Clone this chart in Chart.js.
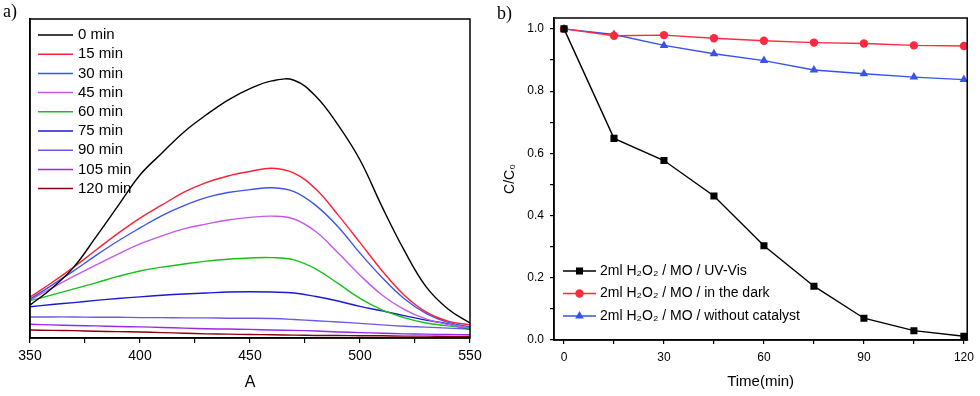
<!DOCTYPE html>
<html>
<head>
<meta charset="utf-8">
<script src="https://cdn.jsdelivr.net/npm/chart.js@4.4.1/dist/chart.umd.min.js"></script>
<style>
  body { margin: 0; background: #fff; }
  #wrap { position: relative; width: 980px; height: 396px; }
  canvas { position: absolute; top: 0; }
  .tag { position: absolute; font-family: "Liberation Serif", serif; font-size: 18px; color: #000; }
</style>
</head>
<body>
<div id="wrap">
  <canvas id="chartA" width="490" height="396" style="left:0"></canvas>
  <canvas id="chartB" width="490" height="396" style="left:490px"></canvas>
  <div class="tag" style="left:3px;top:1px">a)</div>
  <div class="tag" style="left:497px;top:3px">b)</div>
</div>
<script>
// panel a: spectra (normalised absorbance, no y ticks in the original)
const wavelengths = [350, 360, 370, 380, 390, 400, 410, 420, 430, 440, 450, 460, 470, 480, 490, 500, 510, 520, 530, 540, 550];
const spectraLabels = ['0 min', '15 min', '30 min', '45 min', '60 min', '75 min', '90 min', '105 min', '120 min'];
const spec0 = [0.103, 0.156, 0.223, 0.317, 0.414, 0.511, 0.580, 0.646, 0.699, 0.746, 0.782, 0.806, 0.808, 0.757, 0.668, 0.558, 0.412, 0.276, 0.161, 0.091, 0.047];
const spec15 = [0.128, 0.174, 0.223, 0.276, 0.328, 0.376, 0.417, 0.457, 0.487, 0.508, 0.522, 0.532, 0.517, 0.466, 0.386, 0.299, 0.211, 0.135, 0.082, 0.053, 0.041];
const spec30 = [0.122, 0.166, 0.211, 0.259, 0.304, 0.345, 0.384, 0.415, 0.440, 0.456, 0.465, 0.471, 0.459, 0.415, 0.349, 0.266, 0.190, 0.124, 0.077, 0.049, 0.035];
const spec45 = [0.119, 0.157, 0.194, 0.229, 0.263, 0.295, 0.320, 0.342, 0.357, 0.370, 0.378, 0.382, 0.373, 0.333, 0.267, 0.197, 0.135, 0.090, 0.060, 0.043, 0.032];
const spec60 = [0.117, 0.135, 0.154, 0.173, 0.193, 0.210, 0.222, 0.232, 0.241, 0.247, 0.251, 0.252, 0.245, 0.216, 0.171, 0.124, 0.088, 0.064, 0.047, 0.038, 0.030];
const spec75 = [0.098, 0.105, 0.111, 0.118, 0.124, 0.129, 0.134, 0.138, 0.141, 0.144, 0.145, 0.144, 0.141, 0.130, 0.116, 0.099, 0.085, 0.070, 0.056, 0.044, 0.027];
const spec90 = [0.066, 0.066, 0.066, 0.065, 0.065, 0.064, 0.064, 0.063, 0.063, 0.062, 0.062, 0.061, 0.058, 0.054, 0.050, 0.046, 0.041, 0.037, 0.034, 0.031, 0.028];
const spec105 = [0.043, 0.041, 0.039, 0.038, 0.036, 0.035, 0.033, 0.031, 0.029, 0.028, 0.027, 0.025, 0.024, 0.022, 0.019, 0.017, 0.015, 0.013, 0.012, 0.011, 0.010];
const spec120 = [0.025, 0.024, 0.023, 0.021, 0.020, 0.019, 0.017, 0.015, 0.013, 0.012, 0.011, 0.010, 0.009, 0.008, 0.008, 0.007, 0.007, 0.006, 0.006, 0.005, 0.005];
const spectraColors = ['#000000', '#ff2035', '#3a55ee', '#c45ae6', '#18c018', '#1a1ad0', '#6a5ae6', '#9a28e6', '#8a0010'];

// panel b: C/C0 vs time
const times = [0, 15, 30, 45, 60, 75, 90, 105, 120];
const seriesLabels = ['2ml H\u2082O\u2082 / MO / UV-Vis', '2ml H\u2082O\u2082 / MO / in the dark', '2ml H\u2082O\u2082 / MO / without catalyst'];
const uvVis = [1.0, 0.648, 0.577, 0.463, 0.303, 0.173, 0.070, 0.030, 0.012];
const dark = [1.0, 0.978, 0.980, 0.970, 0.962, 0.956, 0.953, 0.947, 0.945];
const noCatalyst = [1.0, 0.982, 0.947, 0.920, 0.898, 0.868, 0.856, 0.845, 0.837];
const seriesColors = ['#000000', '#ff2a3f', '#3553ee'];
const seriesMarkers = ['rect', 'circle', 'triangle'];
const markerSizes = [5, 4.2, 5];

const FONT = '"Liberation Sans", Arial, sans-serif';

// box around the plot area
const frame = {
  id: 'frame',
  afterDraw(chart) {
    const { ctx, chartArea: a } = chart;
    ctx.save();
    ctx.strokeStyle = '#000';
    ctx.lineWidth = 1.5;
    ctx.strokeRect(a.left, a.top, a.right - a.left, a.bottom - a.top);
    ctx.restore();
  }
};

// legend drawn inside the plot area
const innerLegend = {
  id: 'innerLegend',
  afterDraw(chart, args, opts) {
    const ctx = chart.ctx;
    ctx.save();
    ctx.font = opts.fontSize + 'px ' + FONT;
    ctx.textBaseline = 'middle';
    chart.data.datasets.forEach((ds, i) => {
      const y = opts.y + i * opts.gap;
      ctx.strokeStyle = ds.borderColor;
      ctx.lineWidth = 1.5;
      ctx.beginPath();
      ctx.moveTo(opts.x, y);
      ctx.lineTo(opts.x + opts.len, y);
      ctx.stroke();
      if (ds.pointStyle && ds.pointRadius > 0) {
        ctx.fillStyle = ds.borderColor;
        Chart.helpers.drawPoint(ctx, { pointStyle: ds.pointStyle, radius: ds.pointRadius, rotation: 0, borderWidth: 0 }, opts.x + opts.len / 2, y);
      }
      ctx.fillStyle = '#000';
      ctx.fillText(ds.label, opts.x + opts.len + opts.textGap, y);
    });
    ctx.restore();
  }
};

const chartA = new Chart(document.getElementById('chartA'), {
  type: 'line',
  data: {
    labels: wavelengths,
    datasets: spectraLabels.map((label, i) => ({
      label,
      data: [spec0, spec15, spec30, spec45, spec60, spec75, spec90, spec105, spec120][i].map((v, j) => ({ x: wavelengths[j], y: v })),
      borderColor: spectraColors[i],
      borderWidth: 1.4,
      pointRadius: 0,
      tension: 0.4
    }))
  },
  options: {
    responsive: false,
    animation: false,
    devicePixelRatio: 1,
    layout: { padding: { top: 19, right: 20, left: 0, bottom: 0 } },
    plugins: {
      legend: { display: false },
      tooltip: { enabled: false },
      innerLegend: { x: 38, y: 35, gap: 19.2, len: 35, textGap: 5, fontSize: 15 }
    },
    scales: {
      x: {
        type: 'linear',
        min: 350,
        max: 550,
        ticks: {
          stepSize: 25,
          autoSkip: false,
          maxRotation: 0,
          padding: 5,
          color: '#000',
          font: { family: FONT, size: 14 },
          callback: v => (v % 50 === 0 ? v : '')
        },
        grid: { drawOnChartArea: false, tickLength: 5, color: '#000', lineWidth: 1.2 },
        border: { color: '#000', width: 1.5 },
        title: { display: true, text: 'A', color: '#000', font: { family: FONT, size: 16 }, padding: { top: 0, bottom: 4 } },
        afterFit: axis => { axis.height = 58; }
      },
      y: {
        min: 0,
        max: 1,
        ticks: { display: false },
        grid: { display: false },
        border: { color: '#000', width: 1.5 },
        afterFit: axis => { axis.width = 30; }
      }
    }
  },
  plugins: [frame, innerLegend]
});

const chartB = new Chart(document.getElementById('chartB'), {
  type: 'line',
  data: {
    datasets: seriesLabels.map((label, i) => ({
      label,
      data: [uvVis, dark, noCatalyst][i].map((v, j) => ({ x: times[j], y: v })),
      borderColor: seriesColors[i],
      backgroundColor: seriesColors[i],
      borderWidth: 1.4,
      pointStyle: seriesMarkers[i],
      pointRadius: markerSizes[i],
      pointBorderWidth: 0
    }))
  },
  options: {
    responsive: false,
    animation: false,
    devicePixelRatio: 1,
    layout: { padding: { top: 18, right: 12, left: 8, bottom: 0 } },
    plugins: {
      legend: { display: false },
      tooltip: { enabled: false },
      innerLegend: { x: 73, y: 271, gap: 22.5, len: 33, textGap: 4, fontSize: 14 }
    },
    scales: {
      x: {
        type: 'linear',
        min: -3,
        max: 121,
        ticks: {
          stepSize: 15,
          includeBounds: false,
          autoSkip: false,
          maxRotation: 0,
          padding: 6,
          color: '#000',
          font: { family: FONT, size: 12 },
          callback: v => (v % 30 === 0 ? v : '')
        },
        grid: { drawOnChartArea: false, tickLength: 4, color: '#000', lineWidth: 1.2 },
        border: { color: '#000', width: 1.5 },
        title: { display: true, text: 'Time(min)', color: '#000', font: { family: FONT, size: 15 }, padding: { top: 0, bottom: 5 } },
        afterFit: axis => { axis.height = 56; }
      },
      y: {
        min: 0,
        max: 1.035,
        ticks: {
          stepSize: 0.1,
          includeBounds: false,
          autoSkip: false,
          padding: 6,
          color: '#000',
          font: { family: FONT, size: 12 },
          callback: v => (Math.round(v * 10) % 2 === 0 ? v.toFixed(1) : '')
        },
        grid: { drawOnChartArea: false, tickLength: 4, color: '#000', lineWidth: 1.2 },
        border: { color: '#000', width: 1.5 },
        title: { display: true, text: 'C/C\u2080', color: '#000', font: { family: FONT, size: 14 }, padding: { top: 4, bottom: 0 } },
        afterFit: axis => { axis.width = 56; }
      }
    }
  },
  plugins: [frame, innerLegend]
});
</script>
</body>
</html>
